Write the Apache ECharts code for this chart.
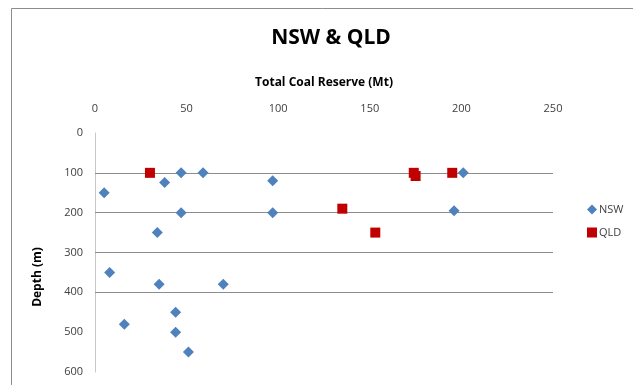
<!DOCTYPE html>
<html>
<head>
<meta charset="utf-8">
<script src="https://cdn.jsdelivr.net/npm/echarts@6/dist/echarts.min.js"></script>
<style>html,body{margin:0;padding:0;background:#fff}#c{width:633px;height:385px}</style>
</head>
<body>
<div id="c"></div>
<script>
const xTickLabels = [0, 50, 100, 150, 200, 250];
const yTickLabels = [0, 100, 200, 300, 400, 500, 600];
const gridDepths = [100, 200, 300, 400];
const nswReserve = [5, 38, 47, 59, 97, 201, 196, 47, 97, 34, 8, 35, 70, 44, 16, 44, 51];
const nswDepth   = [150, 124, 100, 100, 120, 100, 195, 200, 200, 250, 350, 380, 380, 450, 480, 500, 550];
const qldReserve = [30, 174, 175, 195, 135, 153];
const qldDepth   = [100, 100, 108, 100, 190, 250];

const chart = echarts.init(document.getElementById('c'));
const font = "'Open Sans', 'Liberation Sans', sans-serif";
chart.setOption({
  animation: false,
  textStyle: { fontFamily: font },
  title: {
    text: 'NSW & QLD', left: 326, top: 23, textAlign: 'center',
    textStyle: { fontSize: 21, fontWeight: 'bold', color: '#000', fontFamily: font }
  },
  graphic: [
    { type: 'rect', shape: { x: 11.5, y: 8.5, width: 700, height: 500 },
      style: { fill: 'none', stroke: '#8c8c8c', lineWidth: 1 }, silent: true },
    { type: 'text', x: 38, y: 277, rotation: Math.PI / 2,
      style: { text: 'Depth (m)', font: "bold 12px " + font, fill: '#000', align: 'center', verticalAlign: 'middle' } }
  ],
  legend: {
    orient: 'vertical', left: 582, top: 199, itemGap: 12,
    itemWidth: 10, itemHeight: 10, textStyle: { fontSize: 11, color: '#404040', fontFamily: font, padding: [0, 0, 0, -3] },
    data: [{ name: 'NSW', icon: 'diamond' }, { name: 'QLD', icon: 'rect' }]
  },
  grid: { left: 95, right: 80, top: 133, bottom: 13, containLabel: false },
  xAxis: {
    type: 'value', position: 'top',
    min: xTickLabels[0], max: xTickLabels[xTickLabels.length - 1], interval: xTickLabels[1] - xTickLabels[0],
    name: 'Total Coal Reserve (Mt)', nameLocation: 'middle', nameGap: 44,
    nameTextStyle: { fontSize: 12, fontWeight: 'bold', color: '#000', fontFamily: font },
    axisLine: { show: false }, axisTick: { show: false }, splitLine: { show: false },
    axisLabel: { fontSize: 11, color: '#404040', margin: 19, fontFamily: font }
  },
  yAxis: {
    type: 'value', inverse: true,
    min: yTickLabels[0], max: yTickLabels[yTickLabels.length - 1], interval: yTickLabels[1] - yTickLabels[0],
    axisLine: { show: true, lineStyle: { color: '#c8c8c8', width: 1 } },
    axisTick: { show: false }, splitLine: { show: false },
    axisLabel: { fontSize: 11, color: '#404040', margin: 12, fontFamily: font }
  },
  series: [
    {
      name: 'NSW', type: 'scatter', symbol: 'diamond', symbolSize: 11,
      itemStyle: { color: '#4f81bd', opacity: 1 }, z: 3,
      data: nswReserve.map((v, i) => [v, nswDepth[i]]),
      markLine: {
        silent: true, symbol: 'none', label: { show: false },
        lineStyle: { color: '#8c8c8c', width: 1, type: 'solid' },
        data: gridDepths.map(d => ({ yAxis: d })), z: 1
      }
    },
    {
      name: 'QLD', type: 'scatter', symbol: 'rect', symbolSize: 10,
      itemStyle: { color: '#c00000', opacity: 1 }, z: 4,
      data: qldReserve.map((v, i) => [v, qldDepth[i]])
    }
  ]
});
</script>
</body>
</html>
